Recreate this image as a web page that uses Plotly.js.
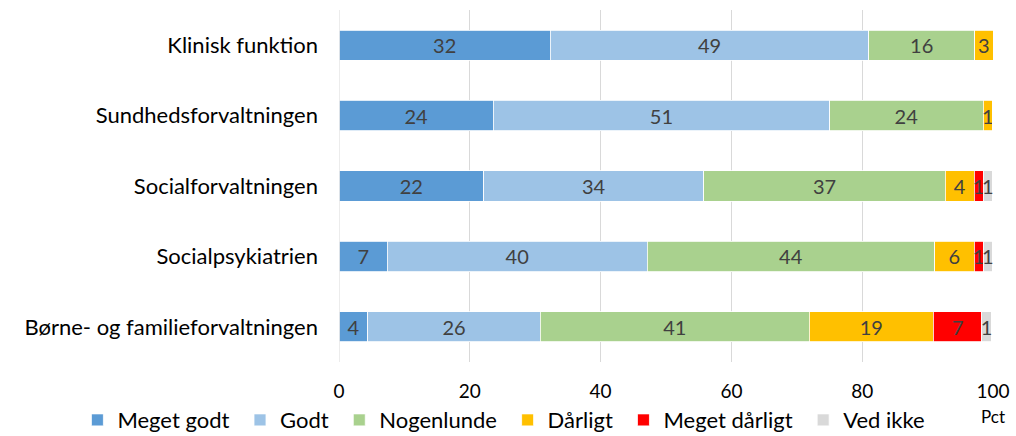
<!DOCTYPE html>
<html>
<head>
<meta charset="utf-8">
<script src="https://cdn.plot.ly/plotly-3.0.1.min.js"></script>
<style>html,body{margin:0;padding:0;background:#fff;}#chart{width:1016px;height:436px;}</style>
</head>
<body>
<div id="chart"></div>
<script>
const categories = ["Klinisk funktion", "Sundhedsforvaltningen", "Socialforvaltningen", "Socialpsykiatrien", "Børne- og familieforvaltningen"];
const seriesNames = ["Meget godt", "Godt", "Nogenlunde", "Dårligt", "Meget dårligt", "Ved ikke"];
const megetGodt    = [32.3, 23.6, 22.1, 7.4, 4.4];
const godt         = [48.7, 51.4, 33.7, 39.7, 26.4];
const nogenlunde   = [16.2, 23.5, 36.9, 44.0, 41.1];
const daarligt     = [2.8, 1.4, 4.4, 6.0, 19.0];
const megetDaarligt= [0, 0, 1.4, 1.4, 7.4];
const vedIkke      = [0, 0, 1.4, 1.4, 1.4];
const xTicks = [0, 20, 40, 60, 80, 100];
const unitLabel = "Pct";

const seriesValues = [megetGodt, godt, nogenlunde, daarligt, megetDaarligt, vedIkke];
const colors = ["#5B9BD5", "#9DC3E6", "#A9D18E", "#FFC000", "#FF0000", "#D9D9D9"];
const FONT = "Lato, sans-serif";
const legendPad = "\u00a0";

const traces = seriesValues.map((vals, i) => ({
  type: "bar",
  orientation: "h",
  name: seriesNames[i] + (i < seriesNames.length - 1 ? legendPad : ""),
  y: categories,
  x: vals,
  marker: {color: colors[i], line: {color: "#ffffff", width: 0.8}},
  text: vals.map(v => v > 0 ? String(Math.round(v)) : ""),
  texttemplate: "%{text}",
  textposition: "inside",
  insidetextanchor: "middle",
  textangle: 0,
  constraintext: "none",
  cliponaxis: false,
  textfont: {family: FONT, size: 20, color: "#404040"},
  hoverinfo: "skip"
}));

const layout = {
  width: 1016, height: 436,
  margin: {l: 339, r: 23, t: 10, b: 74, autoexpand: false},
  barmode: "stack",
  bargap: 0.57,
  showlegend: true,
  paper_bgcolor: "#ffffff",
  plot_bgcolor: "#ffffff",
  font: {family: FONT, color: "#000000"},
  xaxis: {
    range: [0, 100],
    tickvals: xTicks,
    ticktext: xTicks.map(String),
    showgrid: true,
    gridcolor: "#D9D9D9",
    gridwidth: 1,
    zeroline: false,
    showline: false,
    ticks: "",
    ticklabelstandoff: 16,
    tickfont: {family: FONT, size: 19, color: "#000000"},
    fixedrange: true
  },
  yaxis: {
    autorange: "reversed",
    showgrid: false,
    zeroline: false,
    showline: false,
    ticks: "",
    ticklabelstandoff: 20,
    tickfont: {family: FONT, size: 22, color: "#000000"},
    fixedrange: true
  },
  legend: {
    orientation: "h",
    traceorder: "normal",
    xref: "paper", yref: "paper",
    x: -0.40, y: -0.165,
    xanchor: "left", yanchor: "middle",
    font: {family: FONT, size: 22, color: "#000000"},
    itemwidth: 30,
    tracegroupgap: 0,
    bgcolor: "rgba(0,0,0,0)"
  },
  annotations: [{
    text: unitLabel,
    x: 100, xref: "x",
    y: -0.156, yref: "paper", yanchor: "middle", xanchor: "center",
    showarrow: false,
    font: {family: FONT, size: 17, color: "#000000"}
  }],
  shapes: [{
    type: "line", xref: "x", yref: "paper",
    x0: 0, x1: 0, y0: 0, y1: 1,
    line: {color: "#D9D9D9", width: 1}
  }]
};

Plotly.newPlot("chart", traces, layout, {displayModeBar: false, staticPlot: true});
</script>
</body>
</html>
